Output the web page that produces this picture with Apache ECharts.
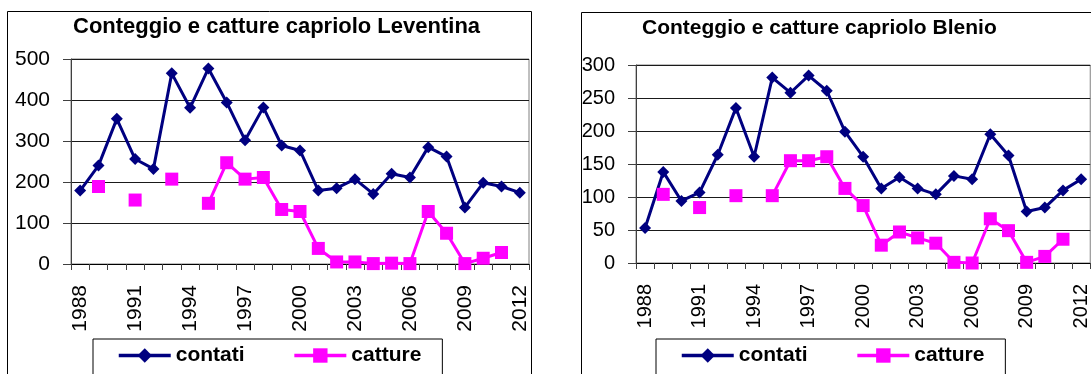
<!DOCTYPE html>
<html>
<head>
<meta charset="utf-8">
<script src="https://cdn.jsdelivr.net/npm/echarts@6/dist/echarts.min.js"></script>
<style>
  html, body { margin: 0; padding: 0; background: #fff; }
  #capriolo { width: 1091px; height: 374px; }
</style>
</head>
<body>
<div id="capriolo"></div>
<script>
// anni 1988..2012
var years = ['1988','1989','1990','1991','1992','1993','1994','1995','1996','1997','1998','1999','2000',
             '2001','2002','2003','2004','2005','2006','2007','2008','2009','2010','2011','2012'];

// Leventina
var leventinaContati = [179, 240, 354, 256, 232, 465, 381, 477, 394, 302, 382, 289, 277,
                        179, 185, 207, 171, 220, 211, 285, 262, 138, 198, 189, 174];
var leventinaCatture = [null, 189, null, 156, null, 207, null, 148, 247, 207, 211, 133, 128,
                        38, 5, 5, 1, 2, 1, 128, 75, 1, 14, 28, null];

// Blenio
var blenioContati = [53, 138, 94, 107, 164, 235, 161, 281, 258, 284, 261, 199, 161,
                     113, 130, 113, 104, 132, 127, 195, 163, 78, 84, 110, 127];
var blenioCatture = [null, 104, null, 84, null, 102, null, 102, 155, 155, 161, 113, 87,
                     27, 47, 38, 30, 1, 0, 67, 49, 1, 10, 36, null];

// scale asse y
var leventinaTicks = [0, 100, 200, 300, 400, 500];
var blenioTicks = [0, 50, 100, 150, 200, 250, 300];

var FONT = 'Liberation Sans, Arial, sans-serif';
var BLU = '#000080';
var MAGENTA = '#FF00FF';

function yAxis(idx, ticks, size) {
  return {
    type: 'value',
    gridIndex: idx,
    min: ticks[0],
    max: ticks[ticks.length - 1],
    interval: ticks[1] - ticks[0],
    axisLine: { show: true, lineStyle: { color: '#404040', width: 1 } },
    axisTick: { show: true, length: 8, lineStyle: { color: '#404040' } },
    axisLabel: { color: '#000', fontSize: size, fontFamily: FONT, margin: 21 },
    splitLine: { show: true, lineStyle: { color: '#1a1a1a', width: 1 } }
  };
}

function xAxis(idx, size) {
  return {
    type: 'category',
    gridIndex: idx,
    data: years,
    boundaryGap: true,
    axisLine: { show: true, lineStyle: { color: '#000', width: 1 } },
    axisTick: { show: true, interval: 0, length: 6, lineStyle: { color: '#404040' } },
    axisLabel: { interval: 2, rotate: 90, color: '#000', fontSize: size, fontFamily: FONT, margin: 21 },
    splitLine: { show: false }
  };
}

function serie(name, idx, data) {
  var contati = name === 'contati';
  return {
    name: name,
    type: 'line',
    xAxisIndex: idx,
    yAxisIndex: idx,
    data: data,
    connectNulls: false,
    symbol: contati ? 'diamond' : 'rect',
    symbolSize: contati ? 12 : 13,
    showAllSymbol: true,
    color: contati ? BLU : MAGENTA,
    lineStyle: { width: 3, color: contati ? BLU : MAGENTA },
    itemStyle: { color: contati ? BLU : MAGENTA },
    z: contati ? 2 : 3,
    animation: false
  };
}

function legenda(left) {
  return {
    left: left,
    top: 339,
    orient: 'horizontal',
    data: ['contati', 'catture'],
    itemWidth: 52,
    itemHeight: 18,
    itemGap: 48,
    padding: [6, 21, 30, 24],
    borderColor: '#000',
    borderWidth: 1,
    selectedMode: false,
    lineStyle: { width: 3.5 },
    textStyle: { color: '#000', fontWeight: 'bold', fontSize: 21, fontFamily: FONT }
  };
}

var chart = echarts.init(document.getElementById('capriolo'));

chart.setOption({
  backgroundColor: '#fff',
  animation: false,
  graphic: [
    { type: 'rect', shape: { x: 7.5, y: 11.5, width: 524, height: 420 },
      style: { fill: null, stroke: '#000', lineWidth: 1 }, z: -1 },
    { type: 'rect', shape: { x: 581.5, y: 12.5, width: 600, height: 420 },
      style: { fill: null, stroke: '#000', lineWidth: 1 }, z: -1 }
  ],
  title: [
    { text: 'Conteggio e catture capriolo Leventina', left: 73, top: 16, padding: 0,
      textStyle: { fontSize: 22, fontWeight: 'bold', color: '#000', fontFamily: FONT } },
    { text: 'Conteggio e catture capriolo Blenio', left: 642, top: 18, padding: 0,
      textStyle: { fontSize: 21, fontWeight: 'bold', color: '#000', fontFamily: FONT } }
  ],
  legend: [legenda(93), legenda(656)],
  grid: [
    { left: 71, top: 59, width: 458, height: 205, show: true, borderColor: '#808080', borderWidth: 1, backgroundColor: 'transparent' },
    { left: 636, top: 65, width: 462, height: 198, show: true, borderColor: '#808080', borderWidth: 1, backgroundColor: 'transparent' }
  ],
  xAxis: [xAxis(0, 21), xAxis(1, 20)],
  yAxis: [yAxis(0, leventinaTicks, 21), yAxis(1, blenioTicks, 20)],
  series: [
    serie('contati', 0, leventinaContati),
    serie('catture', 0, leventinaCatture),
    serie('contati', 1, blenioContati),
    serie('catture', 1, blenioCatture)
  ]
});
</script>
</body>
</html>
